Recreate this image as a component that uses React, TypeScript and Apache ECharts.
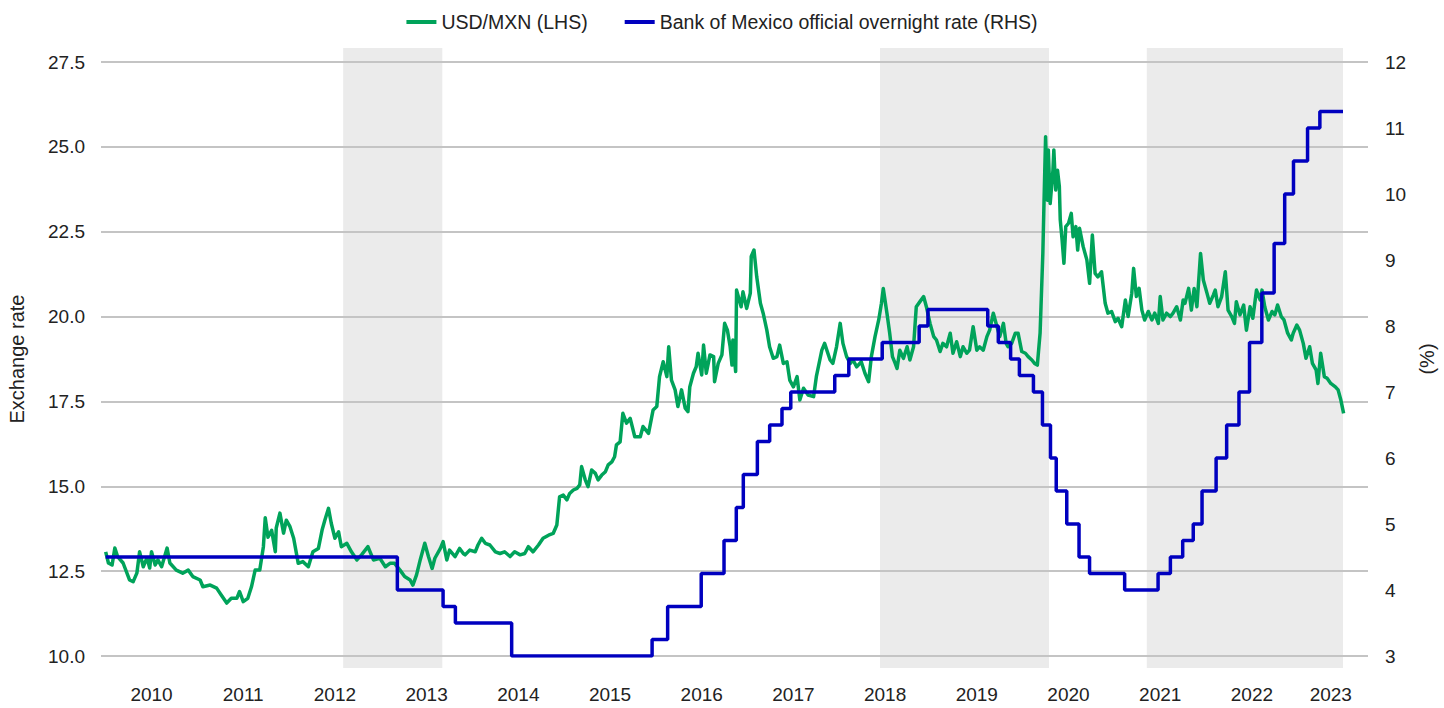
import React, { useEffect, useRef } from "react";
import * as echarts from "echarts";

// x axis in decimal years
const xMin = 2009.949;
const xMax = 2023.766;
const yearLabelPositions = [2010.5, 2011.5, 2012.5, 2013.5, 2014.5, 2015.5, 2016.5, 2017.5, 2018.5, 2019.5, 2020.5, 2021.5, 2022.5, 2023.36];

// USD/MXN (LHS)
const fxYears = [
  2010.00, 2010.03, 2010.07, 2010.10, 2010.13, 2010.19, 2010.26, 2010.30, 2010.34, 2010.37, 2010.41, 2010.45, 2010.48, 2010.50, 2010.54, 2010.57, 2010.61, 2010.67, 2010.70, 2010.77, 2010.84, 2010.90, 2010.95,
  2011.03, 2011.06, 2011.14, 2011.21, 2011.26, 2011.32, 2011.37, 2011.43, 2011.46, 2011.50, 2011.55, 2011.59, 2011.63, 2011.68, 2011.72, 2011.74, 2011.77, 2011.81, 2011.85, 2011.86, 2011.90, 2011.94, 2011.97,
  2012.01, 2012.05, 2012.10, 2012.15, 2012.21, 2012.26, 2012.32, 2012.36, 2012.39, 2012.43, 2012.46, 2012.50, 2012.54, 2012.57, 2012.63, 2012.68, 2012.74, 2012.79, 2012.86, 2012.92, 2012.99,
  2013.05, 2013.10, 2013.15, 2013.21, 2013.26, 2013.32, 2013.35, 2013.39, 2013.43, 2013.48, 2013.52, 2013.56, 2013.59, 2013.65, 2013.68, 2013.72, 2013.75, 2013.81, 2013.86, 2013.90, 2013.92, 2013.97,
  2014.03, 2014.06, 2014.10, 2014.14, 2014.19, 2014.25, 2014.30, 2014.35, 2014.41, 2014.46, 2014.52, 2014.57, 2014.61, 2014.66, 2014.72, 2014.77, 2014.83, 2014.88, 2014.92, 2014.95, 2014.99,
  2015.03, 2015.06, 2015.10, 2015.14, 2015.17, 2015.19, 2015.23, 2015.26, 2015.30, 2015.34, 2015.37, 2015.41, 2015.45, 2015.48, 2015.52, 2015.55, 2015.57, 2015.61, 2015.64, 2015.68, 2015.72, 2015.77, 2015.83, 2015.86, 2015.92, 2015.97,
  2016.01, 2016.04, 2016.08, 2016.12, 2016.14, 2016.17, 2016.21, 2016.24, 2016.28, 2016.32, 2016.35, 2016.37, 2016.41, 2016.44, 2016.46, 2016.50, 2016.52, 2016.55, 2016.59, 2016.63, 2016.64, 2016.68, 2016.72, 2016.75, 2016.78, 2016.81, 2016.83, 2016.84, 2016.87, 2016.88, 2016.93, 2016.95, 2016.99,
  2017.03, 2017.04, 2017.07, 2017.10, 2017.14, 2017.17, 2017.21, 2017.24, 2017.28, 2017.32, 2017.35, 2017.39, 2017.43, 2017.46, 2017.50, 2017.54, 2017.57, 2017.61, 2017.66, 2017.72, 2017.75, 2017.81, 2017.84, 2017.90, 2017.93, 2017.97,
  2018.01, 2018.04, 2018.08, 2018.12, 2018.15, 2018.19, 2018.24, 2018.28, 2018.32, 2018.35, 2018.39, 2018.43, 2018.46, 2018.48, 2018.52, 2018.55, 2018.58, 2018.61, 2018.63, 2018.66, 2018.70, 2018.74, 2018.77, 2018.81, 2018.84, 2018.88, 2018.92, 2018.95, 2018.99,
  2019.03, 2019.06, 2019.10, 2019.13, 2019.17, 2019.21, 2019.24, 2019.28, 2019.32, 2019.35, 2019.39, 2019.42, 2019.46, 2019.50, 2019.53, 2019.57, 2019.61, 2019.64, 2019.68, 2019.72, 2019.75, 2019.79, 2019.82, 2019.84, 2019.88, 2019.92, 2019.95, 2019.99,
  2020.03, 2020.06, 2020.10, 2020.13, 2020.16, 2020.19, 2020.20, 2020.22, 2020.23, 2020.25, 2020.27, 2020.28, 2020.30, 2020.33, 2020.34, 2020.36, 2020.38, 2020.40, 2020.41, 2020.43, 2020.45, 2020.47, 2020.50, 2020.53, 2020.55, 2020.58, 2020.60, 2020.62, 2020.66, 2020.70, 2020.73, 2020.76, 2020.79, 2020.82, 2020.86, 2020.90, 2020.93, 2020.97,
  2021.01, 2021.04, 2021.08, 2021.12, 2021.15, 2021.19, 2021.21, 2021.24, 2021.27, 2021.30, 2021.33, 2021.37, 2021.41, 2021.44, 2021.48, 2021.50, 2021.53, 2021.57, 2021.61, 2021.64, 2021.68, 2021.72, 2021.75, 2021.77, 2021.81, 2021.84, 2021.87, 2021.90, 2021.94, 2021.97,
  2022.01, 2022.04, 2022.08, 2022.10, 2022.13, 2022.17, 2022.21, 2022.24, 2022.28, 2022.31, 2022.33, 2022.37, 2022.41, 2022.44, 2022.48, 2022.51, 2022.55, 2022.59, 2022.61, 2022.64, 2022.68, 2022.72, 2022.75, 2022.78, 2022.82, 2022.85, 2022.89, 2022.93, 2022.95, 2022.99,
  2023.02, 2023.06, 2023.09, 2023.13, 2023.16, 2023.20, 2023.22, 2023.25, 2023.29, 2023.32, 2023.36, 2023.41, 2023.44, 2023.47, 2023.50,
];
const fxValues = [
  13.07, 12.74, 12.68, 13.18, 12.93, 12.74, 12.24, 12.19, 12.44, 13.07, 12.63, 12.89, 12.59, 13.07, 12.68, 12.83, 12.63, 13.18, 12.74, 12.53, 12.44, 12.53, 12.34,
  12.24, 12.04, 12.09, 12.00, 11.80, 11.56, 11.70, 11.70, 11.90, 11.60, 11.70, 12.04, 12.53, 12.53, 13.22, 14.07, 13.50, 13.70, 13.07, 13.77, 14.21, 13.62, 14.00,
  13.81, 13.47, 12.73, 12.78, 12.63, 13.07, 13.17, 13.71, 14.00, 14.35, 13.91, 13.47, 13.66, 13.22, 13.32, 13.07, 12.83, 12.98, 13.22, 12.83, 12.88,
  12.63, 12.73, 12.73, 12.53, 12.34, 12.24, 12.09, 12.39, 12.83, 13.32, 12.93, 12.58, 12.88, 13.17, 13.37, 12.83, 13.12, 12.93, 13.17, 13.02, 12.98, 13.12,
  13.07, 13.27, 13.47, 13.32, 13.27, 13.07, 13.02, 13.07, 12.93, 13.07, 12.98, 13.02, 13.22, 13.07, 13.27, 13.47, 13.56, 13.61, 13.86, 14.69, 14.74,
  14.60, 14.79, 14.89, 14.94, 15.04, 15.58, 15.19, 14.99, 15.48, 15.38, 15.19, 15.33, 15.43, 15.63, 15.72, 15.87, 16.22, 16.31, 17.15, 16.86, 17.00, 16.46, 16.46, 16.76, 16.56, 17.25,
  17.35, 18.23, 18.67, 18.23, 19.11, 18.13, 17.84, 17.35, 17.84, 17.30, 17.20, 17.93, 18.33, 18.52, 18.92, 18.28, 19.16, 18.33, 18.87, 18.82, 18.08, 18.62, 18.87, 19.80, 19.60, 19.11, 18.57, 19.31, 18.38, 20.78, 20.29, 20.73, 20.24,
  20.69, 21.77, 21.96, 21.17, 20.39, 20.10, 19.60, 19.11, 18.77, 18.82, 19.16, 18.62, 18.67, 18.13, 17.93, 18.23, 17.54, 17.89, 17.69, 17.64, 18.23, 19.01, 19.21, 18.72, 18.62, 19.11,
  19.80, 19.21, 18.82, 18.62, 18.72, 18.52, 18.67, 18.33, 18.08, 18.82, 19.41, 19.90, 20.39, 20.83, 20.10, 19.51, 18.82, 18.62, 18.47, 19.01, 18.77, 19.11, 18.72, 19.11, 20.29, 20.44, 20.59, 20.29, 19.80,
  19.41, 19.31, 18.97, 19.21, 19.11, 19.51, 18.92, 19.26, 18.82, 19.11, 18.92, 19.01, 19.70, 19.01, 19.11, 19.01, 19.41, 19.60, 20.10, 19.70, 19.41, 19.80, 19.21, 19.11, 19.21, 19.51, 19.51, 18.97,
  18.92, 18.82, 18.72, 18.62, 18.57, 19.51, 20.29, 21.86, 23.04, 25.30, 23.43, 24.91, 23.33, 24.31, 24.91, 23.73, 24.31, 23.83, 22.85, 22.26, 21.57, 22.65, 22.75, 23.04, 22.35, 22.65, 21.96, 22.60, 22.06, 21.67, 20.98, 22.40, 21.27, 21.17, 21.32, 20.39, 20.10, 20.15,
  19.85, 19.95, 19.70, 20.49, 20.00, 20.69, 21.42, 20.59, 20.83, 20.19, 19.90, 20.15, 19.90, 20.10, 19.80, 20.59, 19.90, 20.10, 20.00, 20.10, 20.29, 19.90, 20.49, 20.39, 20.83, 20.19, 20.83, 20.29, 21.86, 21.08,
  20.69, 20.39, 20.64, 20.78, 20.29, 20.59, 21.32, 20.19, 20.00, 19.80, 20.44, 20.05, 20.34, 19.60, 20.29, 19.95, 20.78, 20.49, 20.78, 20.29, 19.90, 20.15, 20.05, 20.34, 20.00, 19.90, 19.51, 19.31, 19.51, 19.75,
  19.60, 19.21, 18.77, 19.11, 18.62, 18.43, 18.03, 18.92, 18.23, 18.18, 18.03, 17.93, 17.84, 17.54, 17.15,
];

// Bank of Mexico official overnight rate (RHS): decision dates and new rate
const rateDates = [
  "2010-01-01", "2013-03-08", "2013-09-06", "2013-10-25", "2014-06-06", "2015-12-17", "2016-02-17", "2016-06-30",
  "2016-09-29", "2016-11-17", "2016-12-15", "2017-02-09", "2017-03-30", "2017-05-18", "2017-06-22", "2017-12-14",
  "2018-02-08", "2018-06-21", "2018-11-15", "2018-12-20", "2019-08-15", "2019-09-26", "2019-11-14", "2019-12-19",
  "2020-02-13", "2020-03-20", "2020-04-21", "2020-05-14", "2020-06-25", "2020-08-13", "2020-09-24", "2021-02-11",
  "2021-06-24", "2021-08-12", "2021-09-30", "2021-11-11", "2021-12-16", "2022-02-10", "2022-03-24", "2022-05-12",
  "2022-06-23", "2022-08-11", "2022-09-29", "2022-11-10", "2022-12-15", "2023-02-09", "2023-03-30", "2023-06-30",
];
const rateValues = [
  4.5, 4.0, 3.75, 3.5, 3.0, 3.25, 3.75, 4.25,
  4.75, 5.25, 5.75, 6.25, 6.5, 6.75, 7.0, 7.25,
  7.5, 7.75, 8.0, 8.25, 8.0, 7.75, 7.5, 7.25,
  7.0, 6.5, 6.0, 5.5, 5.0, 4.5, 4.25, 4.0,
  4.25, 4.5, 4.75, 5.0, 5.5, 6.0, 6.5, 7.0,
  7.75, 8.5, 9.25, 10.0, 10.5, 11.0, 11.25, 11.25,
];

// shaded periods
const shadeStarts = ["2012-08-04", "2018-06-12", "2021-05-10"];
const shadeEnds = ["2013-09-03", "2020-04-15", "2023-06-30"];

const leftTicks = { min: 10, max: 27.5, interval: 2.5 };
const rightTicks = { min: 3, max: 12, interval: 1 };

function toYear(d: string): number {
  const [y, m, dd] = d.split("-").map(Number);
  const s = Date.UTC(y, 0, 1);
  const e = Date.UTC(y + 1, 0, 1);
  return y + (Date.UTC(y, m - 1, dd) - s) / (e - s);
}

const FONT = "'Liberation Sans', Arial, Helvetica, sans-serif";
const GREEN = "#00a35a";
const BLUE = "#0000bf";
const TEXT = "#222222";

export default function App() {
  const ref = useRef<HTMLDivElement>(null);
  useEffect(() => {
    document.body.style.margin = "0";
    if (!ref.current) return;
    const chart = echarts.init(ref.current, null, { renderer: "svg" });
    const fxData = fxYears.map((x, i) => [x, fxValues[i]]);
    const rateData = rateDates.map((d, i) => [toYear(d), rateValues[i]]);
    const shadeData = shadeStarts.map((s, i) => [toYear(s), toYear(shadeEnds[i])]);
    chart.setOption({
      animation: false,
      textStyle: { fontFamily: FONT },
      legend: {
        top: 7,
        left: "center",
        icon: "rect",
        itemWidth: 30,
        itemHeight: 4,
        itemGap: 37,
        textStyle: { fontSize: 19.5, color: TEXT, fontFamily: FONT },
        data: ["USD/MXN (LHS)", "Bank of Mexico official overnight rate (RHS)"],
      },
      grid: [
        { left: 101, right: 76, top: 62, bottom: 52, outerBoundsMode: "none", containLabel: false },
        { left: 101, right: 76, top: 48, bottom: 40, outerBoundsMode: "none", containLabel: false },
      ],
      xAxis: [
        {
          type: "value",
          gridIndex: 0,
          min: xMin,
          max: xMax,
          axisLine: { show: false },
          axisTick: { show: false },
          splitLine: { show: false },
          axisLabel: {
            customValues: yearLabelPositions,
            formatter: (v: number) => String(Math.floor(v)),
            fontSize: 19,
            color: TEXT,
            margin: 29,
          },
        },
        { type: "value", gridIndex: 1, min: xMin, max: xMax, show: false },
      ],
      yAxis: [
        {
          type: "value",
          gridIndex: 0,
          position: "left",
          min: leftTicks.min,
          max: leftTicks.max,
          interval: leftTicks.interval,
          z: 1.5,
          name: "Exchange rate",
          nameLocation: "middle",
          nameGap: 74,
          nameTextStyle: { fontSize: 20, color: TEXT },
          axisLine: { show: false },
          axisTick: { show: false },
          axisLabel: { formatter: (v: number) => v.toFixed(1), fontSize: 19, color: TEXT, margin: 16 },
          splitLine: { lineStyle: { color: "#c4c4c4", width: 2 } },
        },
        {
          type: "value",
          gridIndex: 0,
          position: "right",
          min: rightTicks.min,
          max: rightTicks.max,
          interval: rightTicks.interval,
          z: 1.5,
          name: "(%)",
          nameLocation: "middle",
          nameGap: 46,
          nameTextStyle: { fontSize: 20, color: TEXT },
          axisLine: { show: false },
          axisTick: { show: false },
          axisLabel: { fontSize: 19, color: TEXT, margin: 17 },
          splitLine: { show: false },
        },
        { type: "value", gridIndex: 1, min: 0, max: 1, show: false },
      ],
      series: [
        {
          type: "custom",
          xAxisIndex: 1,
          yAxisIndex: 2,
          z: 1,
          silent: true,
          data: shadeData,
          renderItem: (params: any, api: any) => {
            const p0 = api.coord([api.value(0), 1]);
            const p1 = api.coord([api.value(1), 0]);
            return {
              type: "rect",
              shape: { x: p0[0], y: p0[1], width: p1[0] - p0[0], height: p1[1] - p0[1] },
              style: { fill: "#ebebeb" },
            };
          },
        },
        {
          name: "USD/MXN (LHS)",
          type: "line",
          xAxisIndex: 0,
          yAxisIndex: 0,
          data: fxData,
          showSymbol: false,
          symbol: "none",
          z: 3,
          itemStyle: { color: GREEN },
          lineStyle: { color: GREEN, width: 3.5, join: "round" },
        },
        {
          name: "Bank of Mexico official overnight rate (RHS)",
          type: "line",
          step: "end",
          xAxisIndex: 0,
          yAxisIndex: 1,
          data: rateData,
          showSymbol: false,
          symbol: "none",
          z: 4,
          itemStyle: { color: BLUE },
          lineStyle: { color: BLUE, width: 3.5 },
        },
      ],
    });
    return () => chart.dispose();
  }, []);
  return <div ref={ref} style={{ width: 1444, height: 708 }} />;
}
